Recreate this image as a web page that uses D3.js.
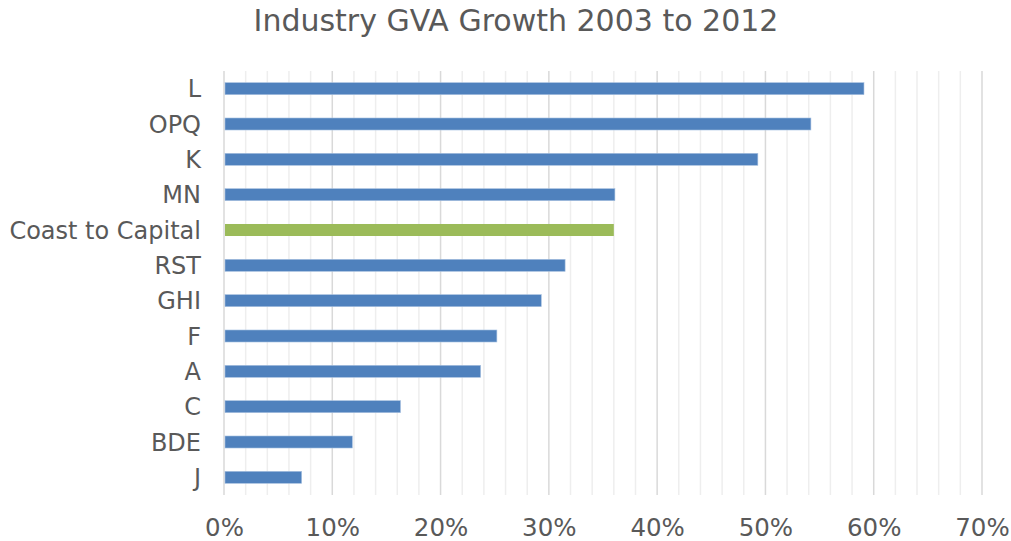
<!DOCTYPE html>
<html>
<head>
<meta charset="utf-8">
<script src="https://cdn.jsdelivr.net/npm/d3@7/dist/d3.min.js"></script>
<style>
  html, body { margin: 0; padding: 0; background: #fff; }
  svg { display: block; font-family: "DejaVu Sans", Verdana, sans-serif; }
</style>
</head>
<body>
<svg id="chart" width="1011" height="541"></svg>
<script>
// Industry GVA growth, 2003 to 2012 (fraction of 2003 level)
const categories = ["L", "OPQ", "K", "MN", "Coast to Capital", "RST", "GHI", "F", "A", "C", "BDE", "J"];
const growth = [0.591, 0.542, 0.493, 0.361, 0.360, 0.315, 0.293, 0.252, 0.237, 0.163, 0.1185, 0.0717];
const highlight = ["Coast to Capital"];
const tickValues = [0, 0.1, 0.2, 0.3, 0.4, 0.5, 0.6, 0.7];
const minorTickValues = d3.range(0, 0.7001, 0.02);
const title = "Industry GVA Growth 2003 to 2012";

const svg = d3.select("#chart");
const margin = { left: 224, right: 29, top: 71, bottom: 46 };
const W = 1011, H = 541;

const x = d3.scaleLinear().domain([0, 0.7]).range([margin.left, W - margin.right]);
const y = d3.scaleBand().domain(categories).range([margin.top, H - margin.bottom]).paddingInner(0.66).paddingOuter(0.33);

// minor gridlines
svg.append("g")
  .selectAll("line")
  .data(minorTickValues.filter(v => Math.round(v * 100) % 10 !== 0))
  .join("line")
  .attr("x1", d => x(d)).attr("x2", d => x(d))
  .attr("y1", margin.top).attr("y2", H - margin.bottom)
  .attr("stroke", "#eeeeee").attr("stroke-width", 1.5);

// major gridlines
svg.append("g")
  .selectAll("line")
  .data(tickValues)
  .join("line")
  .attr("x1", d => x(d)).attr("x2", d => x(d))
  .attr("y1", margin.top).attr("y2", H - margin.bottom)
  .attr("stroke", "#d9d9d9").attr("stroke-width", 1.5);

// bars
svg.append("g")
  .selectAll("rect")
  .data(categories.map((c, i) => ({ c, v: growth[i] })))
  .join("rect")
  .attr("x", x(0) + 1)
  .attr("y", d => y(d.c))
  .attr("width", d => x(d.v) - x(0) - 1)
  .attr("height", y.bandwidth())
  .attr("fill", d => highlight.includes(d.c) ? "#9bbb59" : "#4f81bd")
  .attr("stroke", d => highlight.includes(d.c) ? "none" : "#a7c0e0")
  .attr("stroke-width", 0.6);

// x axis tick labels
const xAxis = d3.axisBottom(x).tickValues(tickValues).tickFormat(d3.format(".0%")).tickSize(0).tickPadding(0);
const gx = svg.append("g").attr("transform", `translate(0,536)`).call(xAxis);
gx.select(".domain").remove();
gx.selectAll("text")
  .attr("dy", null)
  .attr("y", 0)
  .attr("fill", "#595959")
  .attr("font-size", 24.5)
  .attr("font-family", "DejaVu Sans, Verdana, sans-serif");

// y axis category labels
const yAxis = d3.axisLeft(y).tickSize(0).tickPadding(23);
const gy = svg.append("g").attr("transform", `translate(${margin.left},0)`).call(yAxis);
gy.select(".domain").remove();
gy.selectAll("text")
  .attr("dy", "0.36em")
  .attr("fill", "#595959")
  .attr("font-size", 24)
  .attr("font-family", "DejaVu Sans, Verdana, sans-serif");

// title
svg.append("text")
  .attr("x", 516).attr("y", 31)
  .attr("text-anchor", "middle")
  .attr("fill", "#595959")
  .attr("font-size", 30)
  .text(title);
</script>
</body>
</html>
